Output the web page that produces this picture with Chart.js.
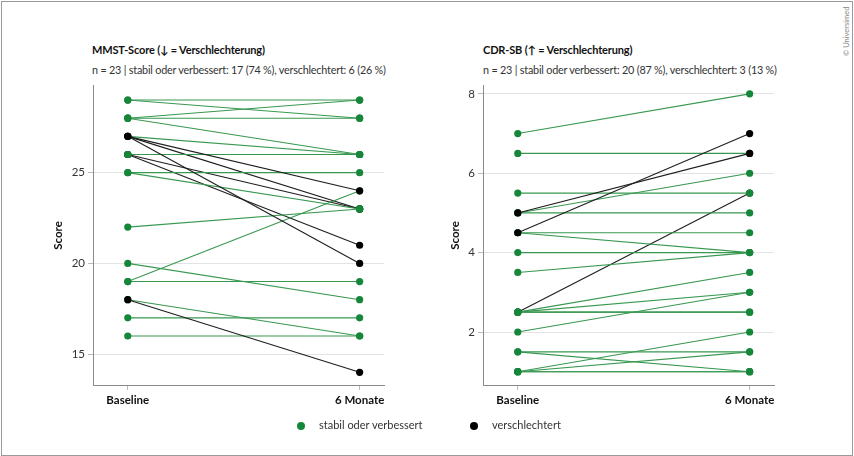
<!DOCTYPE html>
<html lang="de">
<head>
<meta charset="UTF-8">
<title>MMST und CDR-SB: Baseline vs. 6 Monate</title>
<script src="https://cdn.jsdelivr.net/npm/chart.js"></script>
<style>
  html, body { margin: 0; padding: 0; background: #fff; }
  body { width: 854px; height: 456px; position: relative; overflow: hidden; font-family: Lato, "Open Sans", sans-serif; color: #222; }
  .frame { position: absolute; left: 1px; top: 1px; width: 850px; height: 453px; border: 1px solid #9a9a9a; }
  .title { position: absolute; font-weight: bold; font-size: 11px; color: #111; letter-spacing: -0.15px; }
  .sub { position: absolute; font-size: 10.8px; color: #333; letter-spacing: -0.2px; }
  .box { position: absolute; top: 76px; width: 360px; height: 344px; }
  .legend { position: absolute; top: 418px; font-size: 11px; color: #333; }
  .dot { position: absolute; width: 8px; height: 8px; border-radius: 50%; }
  .copy { position: absolute; left: 842px; top: 56px; font-size: 7.5px; color: #888; transform: rotate(-90deg); transform-origin: left top; white-space: nowrap; }
</style>
</head>
<body>
<div class="frame"></div>

<div class="title" style="left:92px; top:43px;">MMST-Score (↓ = Verschlechterung)</div>
<div class="sub" style="left:92px; top:63px;">n = 23 | stabil oder verbessert: 17 (74 %), verschlechtert: 6 (26 %)</div>
<div class="title" style="left:483px; top:43px;">CDR-SB (↑ = Verschlechterung)</div>
<div class="sub" style="left:483px; top:63px;">n = 23 | stabil oder verbessert: 20 (87 %), verschlechtert: 3 (13 %)</div>

<div class="box" style="left:40px;"><canvas id="mmst"></canvas></div>
<div class="box" style="left:430px;"><canvas id="cdr"></canvas></div>

<div class="dot" style="left:297px; top:422px; background:#16873a;"></div>
<div class="legend" style="left:319px;">stabil oder verbessert</div>
<div class="dot" style="left:470px; top:422px; background:#000;"></div>
<div class="legend" style="left:492px;">verschlechtert</div>

<div class="copy">© Universimed</div>

<script>
// Zeitpunkte
const categories = ["Baseline", "6 Monate"];

// MMST je Patient (Reihenfolge = Zeichenreihenfolge, unten zuerst)
const mmstBaseline = [27, 26, 26, 29, 29, 28, 28, 28, 27, 26, 26, 25, 25, 22, 19, 20, 19, 18, 17, 16, 27, 27, 18];
const mmstMonth6   = [23, 23, 21, 29, 28, 29, 28, 26, 26, 26, 26, 25, 23, 23, 24, 18, 19, 16, 17, 16, 24, 20, 14];
const mmstStatus   = ["v","v","v","s","s","s","s","s","s","s","s","s","s","s","s","s","s","s","s","s","v","v","v"];
const mmstTicks = [15, 20, 25];

// CDR-SB je Patient
const cdrBaseline = [2.5, 7, 6.5, 5.5, 5, 5, 4.5, 4.5, 4, 3.5, 2.5, 2.5, 2.5, 2.5, 2, 1.5, 1.5, 1, 1, 1, 1, 5, 4.5];
const cdrMonth6   = [5.5, 8, 6.5, 5.5, 6, 5, 4.5, 4, 4, 4, 3.5, 3, 2.5, 2.5, 3, 1.5, 1, 2, 1.5, 1, 1, 6.5, 7];
const cdrStatus   = ["v","s","s","s","s","s","s","s","s","s","s","s","s","s","s","s","s","s","s","s","s","v","v"];
const cdrTicks = [2, 4, 6, 8];

const GREEN_PT = "#16873a";
const GREEN_LN = "#389850";
const BLACK = "#000";

function buildDatasets(base, m6, status) {
    const ds = base.map((b, i) => {
        const worse = status[i] === "v";
        return {
            data: [{ x: 0, y: b }, { x: 1, y: m6[i] }],
            borderColor: worse ? "#1e1e1e" : GREEN_LN,
            backgroundColor: worse ? BLACK : GREEN_PT,
            pointBackgroundColor: worse ? BLACK : GREEN_PT,
            pointBorderWidth: 0,
            pointRadius: 3.6,
            borderWidth: 1.1,
            tension: 0
        };
    });
    // Chart.js zeichnet Datensatz 0 zuletzt -> umdrehen
    return ds.reverse();
}

function makeChart(id, base, m6, status, ticks, yMin, yMax, padLeft, axisW) {
    new Chart(document.getElementById(id), {
        type: "line",
        data: { datasets: buildDatasets(base, m6, status) },
        options: {
            responsive: true,
            maintainAspectRatio: false,
            animation: false,
            layout: { padding: { top: 1, right: 16, left: padLeft, bottom: 0 } },
            plugins: { legend: { display: false }, tooltip: { enabled: false } },
            scales: {
                x: {
                    type: "linear",
                    min: -0.15,
                    max: 1.105,
                    afterBuildTicks: s => { s.ticks = categories.map((c, i) => ({ value: i })); },
                    afterFit: s => { s.height = 35; },
                    ticks: {
                        callback: v => categories[v],
                        color: "#111",
                        font: { family: "Lato", size: 11.5, weight: "bold" },
                        padding: 3
                    },
                    grid: { drawOnChartArea: false, color: "#bbb", tickLength: 5 },
                    border: { color: "#8a8a8a", width: 1 }
                },
                y: {
                    min: yMin,
                    max: yMax,
                    afterBuildTicks: s => { s.ticks = ticks.map(v => ({ value: v })); },
                    afterFit: s => { s.width = axisW; },
                    title: {
                        display: true,
                        text: "Score",
                        color: "#111",
                        font: { family: "Lato", size: 11.5, weight: "bold" },
                        padding: { top: 0, bottom: 4 }
                    },
                    ticks: {
                        color: "#333",
                        font: { family: "Lato", size: 11.5 },
                        padding: 3
                    },
                    grid: { color: "#e3e3e3", tickLength: 5, tickColor: "#bbb" },
                    border: { color: "#8a8a8a", width: 1 }
                }
            }
        }
    });
}

makeChart("mmst", mmstBaseline, mmstMonth6, mmstStatus, mmstTicks, 13.3, 29.78, 11, 42);
makeChart("cdr", cdrBaseline, cdrMonth6, cdrStatus, cdrTicks, 0.665, 8.2, 18, 35);
</script>
</body>
</html>
